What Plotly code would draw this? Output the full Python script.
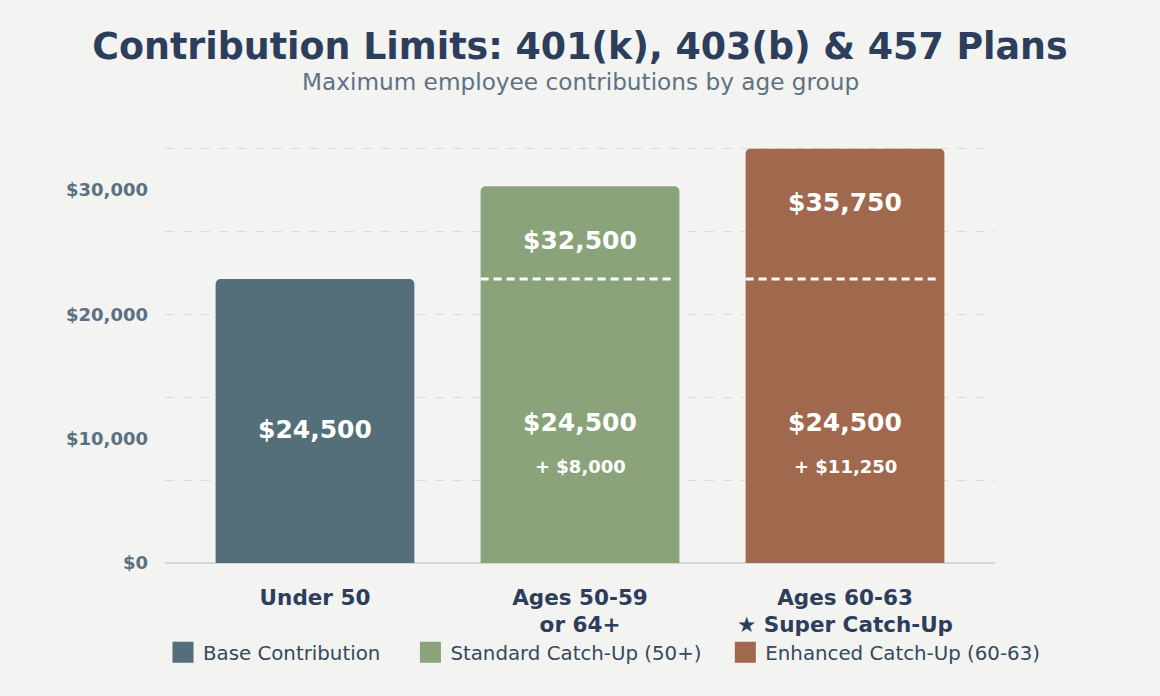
import plotly.graph_objects as go

# ---- data ----
categories = ["Under 50", "Ages 50-59<br>or 64+", "Ages 60-63<br>★ Super Catch-Up"]
base_contrib = [24500, 24500, 24500]
catch_up = [0, 8000, 11250]
series_names = ["Base Contribution", "Standard Catch-Up (50+)", "Enhanced Catch-Up (60-63)"]
tick_labels = ["$0", "$10,000", "$20,000", "$30,000"]

colors = ["#546e7a", "#8ba37a", "#a0694e"]
totals = [b + c for b, c in zip(base_contrib, catch_up)]
ymax = max(totals)
grid_step = ymax / 5
label_step = grid_step * 1.5
yrange_top = ymax * 1.004

FONT = "DejaVu Sans"
NAVY = "#2c3e5c"
BAR_W = 0.75
NBSP = "\u00a0"
legend_pad = [4, 3, 0]  # extra spacing after legend entries

fig = go.Figure()

for i, cat in enumerate(categories):
    fig.add_trace(go.Bar(
        x=[cat], y=[totals[i]], width=BAR_W,
        marker=dict(color=colors[i], cornerradius=5, line=dict(width=0)),
        showlegend=False, hoverinfo="skip",
    ))

# legend entries
for name, col, pad in zip(series_names, colors, legend_pad):
    fig.add_trace(go.Scatter(
        x=[None], y=[None], mode="markers", name=name + NBSP * pad,
        marker=dict(symbol="square", size=16, color=col, line=dict(color=col, width=5)),
    ))

# helper axis for tick labels
fig.add_trace(go.Scatter(x=[None], y=[None], yaxis="y2", showlegend=False, hoverinfo="skip"))

annotations = []
shapes = []
for i, cat in enumerate(categories):
    b, c, t = base_contrib[i], catch_up[i], totals[i]
    if c == 0:
        annotations.append(dict(x=i, y=b / 2, xref="x", yref="y", text=f"${b:,}", showarrow=False,
                                yshift=-8, font=dict(family=FONT, size=25, color="white", weight="bold")))
    else:
        annotations.append(dict(x=i, y=t, xref="x", yref="y", text=f"${t:,}", showarrow=False,
                                yshift=-54, font=dict(family=FONT, size=25, color="white", weight="bold")))
        annotations.append(dict(x=i, y=b / 2, xref="x", yref="y", text=f"${b:,}", showarrow=False,
                                yshift=-1, font=dict(family=FONT, size=25, color="white", weight="bold")))
        annotations.append(dict(x=i, y=b / 2, xref="x", yref="y", text=f"+ ${c:,}", showarrow=False,
                                yshift=-45, font=dict(family=FONT, size=18, color="white", weight="bold")))
        shapes.append(dict(type="line", xref="x", yref="y", x0=i - BAR_W / 2, x1=i + BAR_W / 2 - 0.02,
                           y0=b, y1=b, line=dict(color="white", width=3, dash="8px,5px"), layer="above"))

# subtitle
annotations.append(dict(x=0.5, y=(563 - 84) / 414, xref="paper", yref="paper", yanchor="middle",
                        text="Maximum employee contributions by age group", showarrow=False,
                        font=dict(family=FONT, size=23.2, color="#5f7282")))

fig.update_layout(
    width=1160, height=696,
    margin=dict(l=165, r=165, t=147, b=133, autoexpand=False),
    paper_bgcolor="#f3f3f1", plot_bgcolor="#f3f3f1",
    font=dict(family=FONT),
    barmode="overlay",
    title=dict(text="Contribution Limits: 401(k), 403(b) & 457 Plans",
               x=0.5, xanchor="center", y=1 - 46 / 696, yanchor="middle", yref="container",
               font=dict(family=FONT, size=36.4, color=NAVY, weight="bold")),
    xaxis=dict(type="category", categoryorder="array", categoryarray=categories,
               range=[-0.566, 2.566], showgrid=False, zeroline=False, showline=False,
               ticks="", ticklabelstandoff=19,
               tickfont=dict(family=FONT, size=21.5, color=NAVY, weight="bold")),
    yaxis=dict(range=[0, yrange_top], tick0=0, dtick=grid_step, showticklabels=False,
               showgrid=True, gridcolor="#d9dbd8", griddash="dash", gridwidth=1,
               zeroline=True, zerolinecolor="#d3d6d5", zerolinewidth=1.5, ticks=""),
    yaxis2=dict(overlaying="y", side="left", range=[0, yrange_top],
                tickmode="array", tickvals=[i * label_step for i in range(len(tick_labels))],
                ticktext=tick_labels, showgrid=False, zeroline=False, ticks="",
                ticklabelstandoff=16,
                tickfont=dict(family=FONT, size=18, color="#5a7083", weight="bold")),
    legend=dict(orientation="h", xref="paper", yref="paper",
                x=(163 - 165) / 830, xanchor="left", y=(563 - 652) / 414, yanchor="middle",
                font=dict(family=FONT, size=19.8, color="#34495e"), bgcolor="rgba(0,0,0,0)"),
    annotations=annotations,
    shapes=shapes,
)

fig.write_html("out.html", config={"displayModeBar": False},
               post_script="document.body.style.margin='0';")
